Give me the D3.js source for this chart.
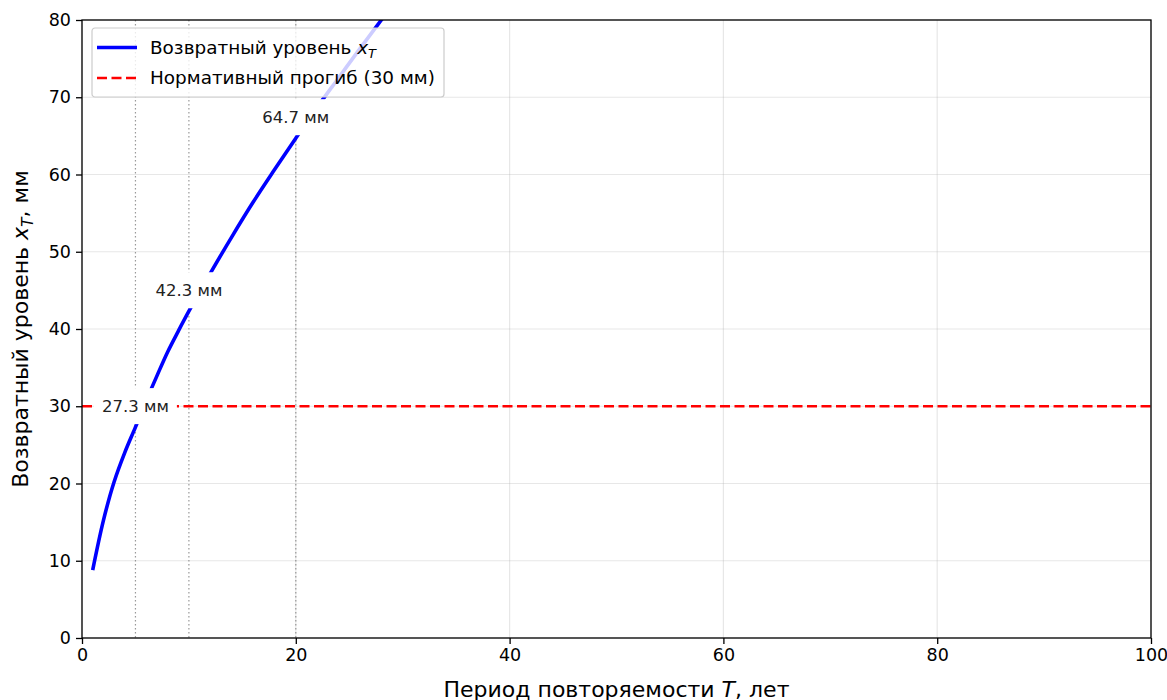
<!DOCTYPE html>
<html>
<head>
<meta charset="utf-8">
<script src="https://cdn.jsdelivr.net/npm/d3@7"></script>
<style>
  body { margin: 0; background: #fff; }
  svg { font-family: "DejaVu Sans", sans-serif; display: block; }
</style>
</head>
<body>
<svg id="chart" width="1167" height="700"></svg>
<script>
// return period T (years) and return level x_T (mm)
const periods = [1, 2, 3, 4, 5, 6, 7, 8, 9, 10, 12, 14, 16, 18, 20, 22, 24, 26, 28, 30];
const levels = [8.8, 15.2, 20.2, 24.0, 27.3, 30.7, 33.9, 37.0, 39.7, 42.3, 47.2, 51.9, 56.4, 60.6, 64.7, 68.7, 72.5, 76.3, 80.0, 83.7];

// marked periods and their labelled levels
const markT = [5, 10, 20];
const markLevel = [27.3, 42.3, 64.7];

const normLevel = 30;
const xTicks = [0, 20, 40, 60, 80, 100];
const yTicks = [0, 10, 20, 30, 40, 50, 60, 70, 80];

const svg = d3.select("#chart");
const margin = { top: 20, right: 16, bottom: 62, left: 82 };
const width = 1167, height = 700;
const innerWidth = width - margin.left - margin.right;
const innerHeight = height - margin.top - margin.bottom;

const g = svg.append("g")
  .attr("transform", `translate(${margin.left},${margin.top})`);

const x = d3.scaleLinear().domain([0, 100]).range([0, innerWidth]);
const y = d3.scaleLinear().domain([0, 80]).range([innerHeight, 0]);

g.append("clipPath").attr("id", "clip")
  .append("rect").attr("width", innerWidth).attr("height", innerHeight);

// grid
g.append("g").selectAll("line").data(xTicks).join("line")
  .attr("x1", d => x(d)).attr("x2", d => x(d))
  .attr("y1", 0).attr("y2", innerHeight)
  .attr("stroke", "#b0b0b0").attr("stroke-opacity", 0.3).attr("stroke-width", 1.2);
g.append("g").selectAll("line").data(yTicks).join("line")
  .attr("y1", d => y(d)).attr("y2", d => y(d))
  .attr("x1", 0).attr("x2", innerWidth)
  .attr("stroke", "#b0b0b0").attr("stroke-opacity", 0.3).attr("stroke-width", 1.2);

// dotted verticals at marked periods
g.append("g").selectAll("line").data(markT).join("line")
  .attr("x1", d => x(d)).attr("x2", d => x(d))
  .attr("y1", 0).attr("y2", innerHeight)
  .attr("stroke", "#808080").attr("stroke-opacity", 0.8)
  .attr("stroke-width", 1.2).attr("stroke-dasharray", "1.5,2.5");

// normative line
g.append("line")
  .attr("x1", 0).attr("x2", innerWidth)
  .attr("y1", y(normLevel)).attr("y2", y(normLevel))
  .attr("stroke", "red").attr("stroke-width", 2.3)
  .attr("stroke-dasharray", "10,4.5");

// return level curve
const line = d3.line()
  .x((d, i) => x(periods[i]))
  .y(d => y(d))
  .curve(d3.curveCatmullRom);

g.append("path")
  .datum(levels)
  .attr("clip-path", "url(#clip)")
  .attr("fill", "none")
  .attr("stroke", "blue")
  .attr("stroke-width", 3.6)
  .attr("d", line);

// annotations with white boxes
markT.forEach((t, i) => {
  const ag = g.append("g")
    .attr("transform", `translate(${x(t)},${y(markLevel[i]) - 21})`);
  const txt = ag.append("text")
    .attr("text-anchor", "middle")
    .attr("dy", "0.35em")
    .attr("font-size", 16.5)
    .attr("fill", "#222")
    .text(`${markLevel[i].toFixed(1)} мм`);
  const bb = txt.node().getBBox();
  ag.insert("rect", "text")
    .attr("x", bb.x - 8).attr("y", -18)
    .attr("width", bb.width + 16).attr("height", 36)
    .attr("fill", "white");
});

// axes
const xAxis = g.append("g")
  .attr("transform", `translate(0,${innerHeight})`)
  .call(d3.axisBottom(x).tickValues(xTicks).tickSize(6).tickPadding(5));
const yAxis = g.append("g")
  .call(d3.axisLeft(y).tickValues(yTicks).tickSize(6).tickPadding(5));
[xAxis, yAxis].forEach(a => {
  a.select(".domain").remove();
  a.selectAll("line").attr("stroke", "#000").attr("stroke-width", 1.3);
  a.selectAll("text").attr("font-size", 17.5).attr("fill", "#000")
    .attr("font-family", "DejaVu Sans");
});

// frame
g.append("rect")
  .attr("width", innerWidth).attr("height", innerHeight)
  .attr("fill", "none").attr("stroke", "#000").attr("stroke-width", 1.3);

// axis labels
const xl = svg.append("text")
  .attr("x", margin.left + innerWidth / 2)
  .attr("y", 697)
  .attr("text-anchor", "middle")
  .attr("font-size", 22);
xl.append("tspan").text("Период повторяемости ");
xl.append("tspan").attr("font-style", "italic").text("T");
xl.append("tspan").text(", лет");

const yl = svg.append("text")
  .attr("transform", `translate(28,${margin.top + innerHeight / 2}) rotate(-90)`)
  .attr("text-anchor", "middle")
  .attr("font-size", 22);
yl.append("tspan").text("Возвратный уровень ");
yl.append("tspan").attr("font-style", "italic").text("x");
yl.append("tspan").attr("font-style", "italic").attr("font-size", 15.5)
  .attr("dy", 5).text("T");
yl.append("tspan").attr("dy", -5).text(", мм");

// legend
const lg = svg.append("g").attr("transform", "translate(92,28)");
lg.append("rect")
  .attr("width", 352).attr("height", 69).attr("rx", 3)
  .attr("fill", "white").attr("fill-opacity", 0.8)
  .attr("stroke", "#cccccc").attr("stroke-width", 1.2);
lg.append("line").attr("x1", 5).attr("x2", 45).attr("y1", 19.5).attr("y2", 19.5)
  .attr("stroke", "blue").attr("stroke-width", 3.6);
lg.append("line").attr("x1", 5).attr("x2", 45).attr("y1", 50).attr("y2", 50)
  .attr("stroke", "red").attr("stroke-width", 2.3).attr("stroke-dasharray", "10,4.5");
const t1 = lg.append("text").attr("x", 58).attr("y", 19.5).attr("dy", "0.35em")
  .attr("font-size", 18.4);
t1.append("tspan").text("Возвратный уровень ");
t1.append("tspan").attr("font-style", "italic").text("x");
t1.append("tspan").attr("font-style", "italic").attr("font-size", 13)
  .attr("dy", 4).text("T");
lg.append("text").attr("x", 58).attr("y", 50).attr("dy", "0.35em")
  .attr("font-size", 18.4).text("Нормативный прогиб (30 мм)");
</script>
</body>
</html>
